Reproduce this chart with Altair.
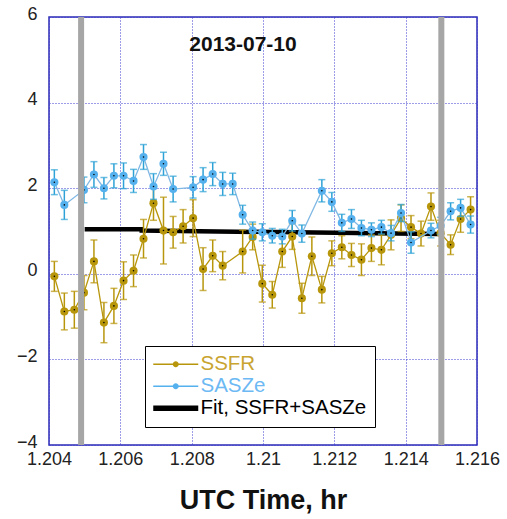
import altair as alt
import pandas as pd

# ---------------- data ----------------
ssfr_t = [1.20415, 1.20443, 1.20471, 1.20498, 1.20526, 1.20554, 1.20582, 1.20609,
          1.20637, 1.20665, 1.20693, 1.20721, 1.20748, 1.20776, 1.20804, 1.20832,
          1.20859, 1.20887, 1.20943, 1.20971, 1.20998, 1.21026, 1.21054, 1.21082,
          1.21109, 1.21137, 1.21165, 1.21193, 1.21221, 1.21248, 1.21276, 1.21304,
          1.21332, 1.21359, 1.21387, 1.21415, 1.21443, 1.21471, 1.21498, 1.21526,
          1.21554, 1.21582]
ssfr_y = [-0.06, -0.88, -0.84, -0.44, 0.29, -1.14, -0.75, -0.16,
          0.07, 0.82, 1.65, 1.01, 0.97, 1.11, 1.30, 0.11,
          0.42, 0.19, 0.52, 0.86, -0.23, -0.49, 0.52, 0.87,
          -0.57, 0.41, -0.37, 0.48, 0.62, 0.44, 0.33, 0.60,
          0.56, 0.91, 1.30, 1.09, 0.94, 1.57, 0.95, 0.68,
          1.28, 1.50]
ssfr_e = [0.35, 0.43, 0.43, 0.40, 0.50, 0.47, 0.41, 0.44,
          0.37, 0.45, 0.40, 0.78, 0.37, 0.39, 0.43, 0.50,
          0.37, 0.33, 0.50, 0.30, 0.43, 0.31, 0.37, 0.30,
          0.35, 0.45, 0.31, 0.29, 0.27, 0.27, 0.37, 0.31,
          0.35, 0.35, 0.31, 0.27, 0.29, 0.32, 0.30, 0.23,
          0.31, 0.30]

sasze_t = [1.20415, 1.20443, 1.20498, 1.20526, 1.20554, 1.20582, 1.20609, 1.20637,
           1.20665, 1.20693, 1.20721, 1.20748, 1.20804, 1.20832, 1.20859, 1.20887,
           1.20915, 1.20943, 1.20971, 1.20998, 1.21026, 1.21054, 1.21082, 1.21109,
           1.21165, 1.21193, 1.21221, 1.21248, 1.21276, 1.21304, 1.21332, 1.21359,
           1.21387, 1.21415, 1.21471, 1.21498, 1.21526, 1.21554, 1.21582]
sasze_y = [2.14, 1.61, 1.96, 2.32, 2.00, 2.29, 2.29, 2.17,
           2.73, 2.04, 2.57, 1.98, 2.02, 2.20, 2.33, 2.10,
           2.10, 1.38, 1.01, 0.97, 0.89, 0.87, 1.24, 0.94,
           1.94, 1.68, 1.19, 1.28, 1.07, 1.03, 1.09, 0.95,
           1.42, 0.73, 1.01, 1.12, 1.46, 1.54, 1.15]
sasze_e = [0.29, 0.34, 0.30, 0.30, 0.25, 0.28, 0.30, 0.27,
           0.29, 0.30, 0.27, 0.30, 0.25, 0.28, 0.27, 0.27,
           0.25, 0.22, 0.20, 0.20, 0.17, 0.17, 0.24, 0.20,
           0.26, 0.22, 0.20, 0.22, 0.18, 0.16, 0.16, 0.18,
           0.20, 0.25, 0.17, 0.20, 0.20, 0.20, 0.20]

fit_t = [1.2050, 1.2066, 1.2066, 1.2149]
fit_y = [1.04, 1.04, 1.01, 0.93]

gray_t = [1.2049, 1.2150]

series_names = ["SSFR", "SASZe", "Fit, SSFR+SASZe"]
series_colors = ["#B8960C", "#55B0EE", "#000000"]
label_colors = ["#C9A430", "#6CB9F4", "#000000"]

x_ticks = [1.204, 1.206, 1.208, 1.210, 1.212, 1.214, 1.216]
y_ticks = [-4, -2, 0, 2, 4, 6]

FONT = "Liberation Sans"
GRID = "#3A3AD0"

xs = alt.Scale(domain=[1.204, 1.216], nice=False, zero=False)
ys = alt.Scale(domain=[-4, 6], nice=False, zero=False)

x_axis = alt.Axis(values=x_ticks, format=".3~f", grid=True, gridColor=GRID,
                  gridDash=[1, 2], gridWidth=1, domain=False, ticks=False,
                  labelFontSize=18, labelFont=FONT, labelColor="#222222",
                  labelPadding=5, labelFlush=False, labelOverlap=False,
                  title="UTC Time, hr", titleFont=FONT, titleFontSize=27,
                  titleFontWeight="bold", titleColor="#111111", titlePadding=19)
y_axis = alt.Axis(values=y_ticks, grid=True, gridColor=GRID, gridDash=[1, 2],
                  gridWidth=1, domain=False, ticks=False, labelFontSize=18,
                  labelFont=FONT, labelColor="#222222", labelPadding=12,
                  labelOffset=-3, labelFlush=False, labelOverlap=False, title=None)


def X(f):
    return alt.X(f, type="quantitative", scale=xs, axis=x_axis)


def Y(f):
    return alt.Y(f, type="quantitative", scale=ys, axis=y_axis)


def series_layers(t, y, e, line_col, bar_col, pt_col):
    df = pd.DataFrame({"t": t, "y": y,
                       "lo": [a - b for a, b in zip(y, e)],
                       "hi": [a + b for a, b in zip(y, e)]})
    base = alt.Chart(df)
    line = base.mark_line(color=line_col, strokeWidth=1.3).encode(x=X("t"), y=Y("y"))
    bar = base.mark_rule(color=bar_col, strokeWidth=1.5).encode(
        x=X("t"), y=Y("lo"), y2="hi:Q")
    cap_hi = base.mark_tick(color=bar_col, orient="horizontal", size=7,
                            thickness=1.5).encode(x=X("t"), y=Y("hi"))
    cap_lo = base.mark_tick(color=bar_col, orient="horizontal", size=7,
                            thickness=1.5).encode(x=X("t"), y=Y("lo"))
    pts = base.mark_circle(color=pt_col, size=66, opacity=1).encode(x=X("t"), y=Y("y"))
    dots = base.mark_circle(color="#000000", size=2.5, opacity=1).encode(
        x=X("t"), y=Y("y"))
    return [line, bar, cap_hi, cap_lo, pts, dots]


fit_df = pd.DataFrame({"t": fit_t, "y": fit_y})
fit = alt.Chart(fit_df).mark_line(color="#000000", strokeWidth=4.5).encode(
    x=X("t"), y=Y("y"))

ssfr_layers = series_layers(ssfr_t, ssfr_y, ssfr_e, "#B8960C", "#B8960C", "#B8960C")
sasze_layers = series_layers(sasze_t, sasze_y, sasze_e, "#80B8E4", "#2EA2D6", "#55B0EE")

gray = alt.Chart(pd.DataFrame({"t": gray_t})).mark_rule(
    color="#A6A6A6", strokeWidth=6).encode(x=X("t"))

# legend layer (no visible marks; legend comes from the explicit scale domain)
# symbol unit = 10 px (symbolSize 400); drawn 45 px wide, starting at layout left
line_dot = ("M-1,-0.075H3.5V0.075H-1Z "
            "M1.55,0A0.3,0.3 0 1,1 0.95,0A0.3,0.3 0 1,1 1.55,0Z")
thick = "M-1,-0.28H3.5V0.28H-1Z"
label_expr = ("datum.label == 'SSFR' ? '%s' : datum.label == 'SASZe' ? '%s' : '%s'"
              % tuple(label_colors))
leg = alt.Legend(title=None, orient="none", legendX=96, legendY=329,
                 symbolSize=400, symbolStrokeWidth=0,
                 labelFont=FONT, labelFontSize=20.5, labelOffset=27,
                 labelColor={"expr": label_expr}, labelLimit=400,
                 rowPadding=1, padding=8,
                 strokeColor="#000000", fillColor="#FFFFFF")
leg_df = pd.DataFrame({"series": series_names, "t": [1.21] * 3, "y": [0.0] * 3})
legend_layer = alt.Chart(leg_df).mark_point(filled=True, opacity=1).encode(
    x=X("t"), y=Y("y"),
    color=alt.Color("series:N",
                    scale=alt.Scale(domain=series_names, range=series_colors),
                    legend=leg),
    shape=alt.Shape("series:N",
                    scale=alt.Scale(domain=series_names,
                                    range=[line_dot, line_dot, thick]),
                    legend=leg)
).transform_filter("false")

chart = alt.layer(fit, *ssfr_layers, *sasze_layers, gray, legend_layer).properties(
    width=428, height=428,
    padding={"left": 49, "top": 17, "right": 30, "bottom": 74},
    autosize=alt.AutoSizeParams(type="none"),
    background="white",
    title=alt.TitleParams("2013-07-10", font=FONT, fontSize=21, fontWeight="bold",
                          color="#111111", offset=-50, dx=-20, anchor="middle"),
).configure_view(stroke="#2B2BB5", strokeWidth=1.5)

chart.save("out.html", embed_options={"renderer": "svg", "actions": False})
